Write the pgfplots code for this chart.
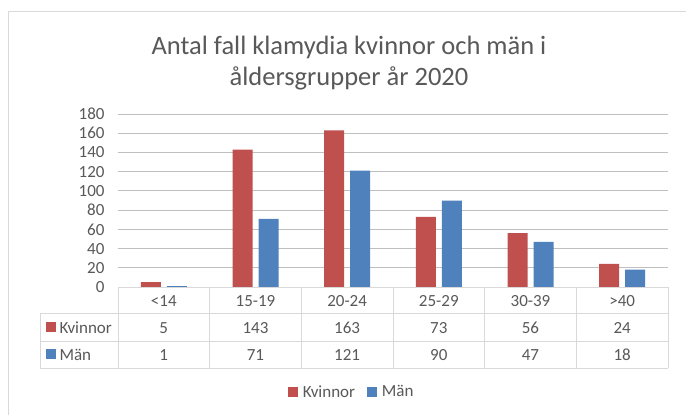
\documentclass[border=0pt]{standalone}
\usepackage{pgfplots}
\pgfplotsset{compat=1.18}
\usepackage{fontspec}
\setmainfont{Carlito}
\definecolor{kred}{HTML}{C0504D}
\definecolor{mblue}{HTML}{4F81BD}
\definecolor{txt}{HTML}{595959}
\definecolor{grid}{HTML}{D9D9D9}
\begin{document}
\begin{tikzpicture}[x=1bp,y=1bp]
\path[use as bounding box] (0,0) rectangle (686,415);
\fill[white] (0,0) rectangle (686,415);
\draw[grid, line width=1bp] (8,0) -- (8,403) -- (686,403);
\node[txt, font=\fontsize{26.5bp}{31bp}\selectfont, align=center] at (349,352) {Antal fall klamydia kvinnor och män i\\åldersgrupper år 2020};
\begin{axis}[
  at={(118bp,128bp)}, anchor=south west,
  scale only axis, width=550bp, height=173bp,
  xmin=-0.5, xmax=5.5, ymin=0, ymax=180,
  ytick={0,20,...,180}, xtick=\empty,
  axis line style={draw=none},
  ymajorgrids, grid style={grid, line width=1bp},
  major tick length=0pt,
  yticklabel style={txt, font=\fontsize{17bp}{18bp}\selectfont, xshift=-10bp},
  /pgf/number format/assume math mode=true,
  ybar, bar width=20bp,
  legend columns=2,
  legend style={at={(0.425,-0.607)}, anchor=center, draw=none, fill=none,
    font=\fontsize{17bp}{18bp}\selectfont, text=txt,
    /tikz/every odd column/.append style={inner xsep=2bp},
    /tikz/every even column/.append style={column sep=10bp}},
  legend image code/.code={\fill[#1] (0bp,-5bp) rectangle (10bp,5bp);},
]
\addplot[fill=kred, draw=none, bar shift=-13bp] coordinates {(0,5) (1,143) (2,163) (3,73) (4,56) (5,24)};
\addplot[fill=mblue, draw=none, bar shift=13bp] coordinates {(0,1) (1,71) (2,121) (3,90) (4,47) (5,18)};
\legend{\,Kvinnor, \,Män}
\end{axis}
% data table
\begin{scope}[grid, line width=1bp]
\draw (118,128) -- (668,128);
\draw (40,102) -- (668,102);
\draw (40,74) -- (668,74);
\draw (40,47) -- (668,47);
\draw (40,102) -- (40,47);
\foreach \k in {0,...,6} {\draw ({118+91.667*\k},128) -- ({118+91.667*\k},47);}
\end{scope}
\begin{scope}[every node/.style={txt, font=\fontsize{17bp}{18bp}\selectfont, anchor=base}]
\foreach \lab [count=\i from 0] in {<14,15-19,20-24,25-29,30-39,>40} {\node at ({163.8+91.667*\i},109) {\lab};}
\foreach \v [count=\i from 0] in {5,143,163,73,56,24} {\node at ({163.8+91.667*\i},82) {\v};}
\foreach \v [count=\i from 0] in {1,71,121,90,47,18} {\node at ({163.8+91.667*\i},55) {\v};}
\node[anchor=base west] at (56,82) {Kvinnor};
\node[anchor=base west] at (56,55) {Män};
\end{scope}
\fill[kred] (46,83) rectangle (56,93);
\fill[mblue] (46,56) rectangle (56,66);
\end{tikzpicture}
\end{document}
